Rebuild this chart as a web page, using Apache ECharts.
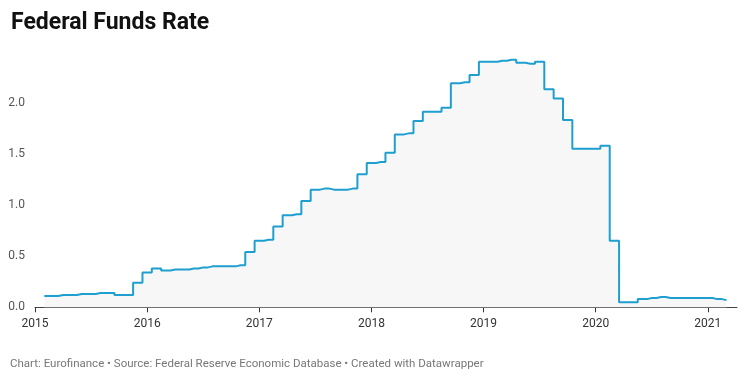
<!DOCTYPE html>
<html>
<head>
<meta charset="utf-8">
<script src="https://cdn.jsdelivr.net/npm/echarts@6/dist/echarts.min.js"></script>
<style>
html,body{margin:0;padding:0;background:#fff;}
#chart{width:750px;height:387px;}
</style>
</head>
<body>
<div id="chart"></div>
<script>
// Monthly effective federal funds rate (%), Feb 2015 – Mar 2021
var months = [
  '2015-02','2015-03','2015-04','2015-05','2015-06','2015-07','2015-08','2015-09','2015-10','2015-11','2015-12',
  '2016-01','2016-02','2016-03','2016-04','2016-05','2016-06','2016-07','2016-08','2016-09','2016-10','2016-11','2016-12',
  '2017-01','2017-02','2017-03','2017-04','2017-05','2017-06','2017-07','2017-08','2017-09','2017-10','2017-11','2017-12',
  '2018-01','2018-02','2018-03','2018-04','2018-05','2018-06','2018-07','2018-08','2018-09','2018-10','2018-11','2018-12',
  '2019-01','2019-02','2019-03','2019-04','2019-05','2019-06','2019-07','2019-08','2019-09','2019-10','2019-11','2019-12',
  '2020-01','2020-02','2020-03','2020-04','2020-05','2020-06','2020-07','2020-08','2020-09','2020-10','2020-11','2020-12',
  '2021-01','2021-02','2021-03'
];
var rates = [
  0.11,0.11,0.12,0.12,0.13,0.13,0.14,0.14,0.12,0.12,0.24,
  0.34,0.38,0.36,0.37,0.37,0.38,0.39,0.40,0.40,0.40,0.41,0.54,
  0.65,0.66,0.79,0.90,0.91,1.04,1.15,1.16,1.15,1.15,1.16,1.30,
  1.41,1.42,1.51,1.69,1.70,1.82,1.91,1.91,1.95,2.19,2.20,2.27,
  2.40,2.40,2.41,2.42,2.39,2.38,2.40,2.13,2.04,1.83,1.55,1.55,
  1.55,1.58,0.65,0.05,0.05,0.08,0.09,0.10,0.09,0.09,0.09,0.09,
  0.09,0.08,0.07
];
var yearTicks = ['2015','2016','2017','2018','2019','2020','2021'];
var yTickLabels = ['0.0','0.5','1.0','1.5','2.0'];

function toYear(s){ var p = s.split('-'); return (+p[0]) + (+p[1] - 1) / 12; }
var seriesData = months.map(function(m, i){ return [toYear(m), rates[i]]; });

var chart = echarts.init(document.getElementById('chart'), null, {renderer:'canvas'});
var FONT = 'Roboto, "Noto Sans", sans-serif';
chart.setOption({
  animation: false,
  backgroundColor: '#ffffff',
  title: [{
    text: 'Federal Funds Rate',
    left: 6, top: 7,
    textStyle: {fontFamily: FONT, fontSize: 23, fontWeight: 'bold', color: '#111111'}
  },{
    text: 'Chart: Eurofinance • Source: Federal Reserve Economic Database • Created with Datawrapper',
    left: 5, top: 353,
    textStyle: {fontFamily: FONT, fontSize: 11.5, fontWeight: 'normal', color: '#777777'}
  }],
  grid: {left: 35, right: 13, top: 51.5, bottom: 79.7},
  xAxis: {
    type: 'value',
    min: 2015, max: 2021.26, interval: 1,
    axisLine: {show: true, lineStyle: {color: '#444', width: 1}},
    axisTick: {show: true, length: 5, lineStyle: {color: '#333'}},
    splitLine: {show: false},
    axisLabel: {
      margin: 11, fontFamily: FONT, fontSize: 12, color: '#333',
      showMaxLabel: false,
      formatter: function(v){ var i = Math.round(v - 2015); return yearTicks[i] || ''; }
    }
  },
  yAxis: {
    type: 'value',
    min: 0, max: 2.5, interval: 0.5,
    axisLine: {show: false},
    axisTick: {show: false},
    splitLine: {show: false},
    axisLabel: {
      margin: 10, fontFamily: FONT, fontSize: 12, color: '#555',
      formatter: function(v){ var i = Math.round(v / 0.5); return yTickLabels[i] || ''; }
    }
  },
  series: [{
    type: 'line',
    step: 'middle',
    data: seriesData,
    showSymbol: false,
    lineStyle: {color: '#1e9fcf', width: 2},
    itemStyle: {color: '#1e9fcf'},
    areaStyle: {color: '#f7f7f7', opacity: 1}
  }]
});
</script>
</body>
</html>
